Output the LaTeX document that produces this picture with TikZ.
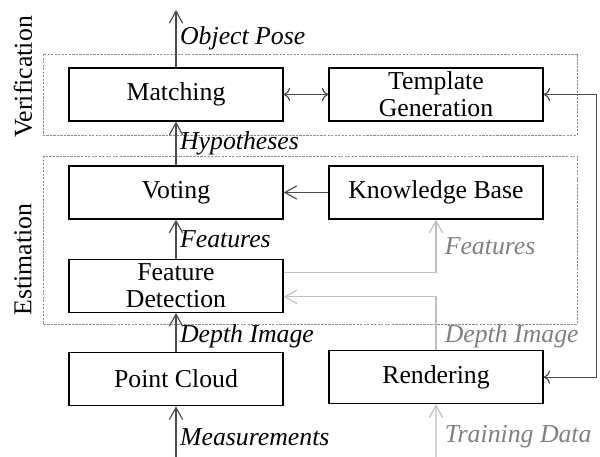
\documentclass[tikz,border=0pt]{standalone}
\usepackage{fontspec}
\setmainfont{Liberation Serif}
\usetikzlibrary{arrows.meta}
\tikzstyle{block} = [rectangle, text centered, align=center, draw=black, line width=0.6pt, minimum width=3.21cm, minimum height=0.795cm, inner ysep=0pt, font=\fontsize{11}{11.5}\selectfont]
\tikzstyle{frame} = [draw=black!45, line width=0.4pt, dash pattern=on 1pt off 0.5pt]
\tikzstyle{link} = [draw=black!70, line width=0.5pt, -{Straight Barb[length=1.8mm, width=2mm]}]
\tikzstyle{lightlink} = [draw=black!25, line width=0.5pt, -{Straight Barb[length=1.8mm, width=2mm]}]
\tikzstyle{flowlabel} = [right, inner xsep=1.5pt, font=\fontsize{11}{11.5}\selectfont\itshape]
\tikzstyle{stagelabel} = [rotate=90, font=\fontsize{11}{11.5}\selectfont]

\begin{document}
\begin{tikzpicture}[node distance=1.4cm]
  \useasboundingbox (-2.64,-5.4375) rectangle (6.36,1.4175);

  \node (matching) [block] {Matching};
  \node (template) [block, right of=matching, xshift=2.5cm] {Template\\Generation};
  \node (voting) [block, below of=matching, yshift=-0.07cm] {Voting};
  \node (knowledge) [block, right of=voting, xshift=2.5cm] {Knowledge Base};
  \node (detection) [block, below of=voting] {Feature\\Detection};
  \node (cloud) [block, below of=detection] {Point Cloud};
  \node (rendering) [block, right of=cloud, xshift=2.5cm, yshift=0.03cm] {Rendering};

  \coordinate (poseout) at (0,1.2675);
  \coordinate (measin) at (0,-5.4375);
  \coordinate (trainin) at (3.9,-5.4375);

  % stage frames
  \draw [frame] (-1.995,0.6075) rectangle (6.015,-0.6075);
  \draw [frame] (-1.995,-0.9225) rectangle (6.015,-3.4425);
  \node (verification) [stagelabel] at (-2.295,0.2625) {Verification};
  \node (estimation) [stagelabel] at (-2.295,-2.475) {Estimation};

  % main chain
  \draw [link] (measin) -- node[flowlabel, pos=0.39] {Measurements} (cloud);
  \draw [link] (cloud) -- node[flowlabel, pos=0.4] {Depth Image} (detection);
  \draw [link] (detection) -- node[flowlabel] {Features} (voting);
  \draw [link] (voting) -- node[flowlabel] {Hypotheses} (matching);
  \draw [link] (matching) -- node[flowlabel] {Object Pose} (poseout);
  \draw [link] (knowledge) -- (voting);
  \draw [link, <->] (matching) -- (template);
  \draw [link, <->] (template.east) -- ++(0.795,0) |- (rendering.east);

  % training side
  \draw [lightlink] (trainin) -- node[flowlabel, pos=0.38, xshift=0.07cm, text=black!50] {Training Data} (rendering);
  \draw [lightlink] (rendering.north) |- node[flowlabel, pos=0.13, xshift=0.07cm, text=black!50] {Depth Image} ([yshift=-0.165cm]detection.east);
  \draw [lightlink] ([yshift=0.195cm]detection.east) -| node[flowlabel, pos=0.75, xshift=0.07cm, text=black!50] {Features} (knowledge.south);
\end{tikzpicture}
\end{document}
